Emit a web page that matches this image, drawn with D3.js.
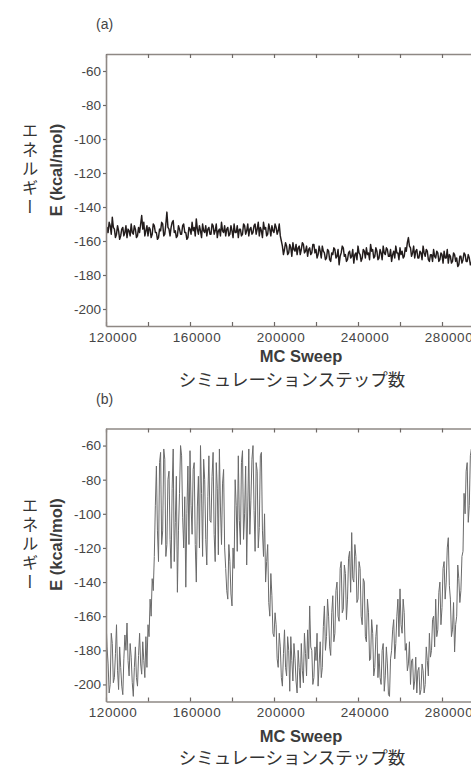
<!DOCTYPE html>
<html>
<head>
<meta charset="utf-8">
<script src="https://d3js.org/d3.v7.min.js"></script>
<style>
  body { margin: 0; background: #fff; }
  .tick text { font-family: "Liberation Sans", Arial, sans-serif; }
</style>
</head>
<body>
<svg id="chart" width="471" height="769"></svg>
<script>
// MC sweep grid of the traces
const sweepStart = 120000, sweepStep = 500;

// (a) energy trace, kcal/mol
const energyA = [
  -158, -152, -155, -149, -151, -156, -146, -152, -153, -158, -156, -151, -154, -159, -157, -153, -152, -157, -155, -151,
  -158, -153, -154, -157, -150, -155, -156, -151, -153, -158, -157, -152, -155, -150, -145, -153, -149, -157, -154, -151,
  -157, -152, -153, -158, -156, -150, -151, -155, -155, -159, -158, -153, -154, -149, -150, -157, -156, -150, -143, -152,
  -153, -157, -152, -149, -148, -155, -154, -158, -157, -151, -153, -156, -156, -151, -150, -155, -155, -159, -158, -152,
  -153, -156, -149, -154, -152, -157, -147, -153, -156, -151, -154, -158, -150, -154, -155, -151, -157, -153, -152, -156,
  -156, -150, -151, -156, -154, -150, -158, -154, -153, -157, -149, -154, -155, -151, -157, -153, -152, -157, -156, -151,
  -154, -158, -150, -155, -155, -151, -158, -153, -153, -157, -156, -150, -151, -156, -154, -150, -157, -153, -152, -156,
  -155, -151, -150, -156, -153, -149, -157, -152, -154, -158, -149, -153, -152, -157, -156, -150, -153, -157, -151, -154,
  -155, -150, -152, -156, -154, -150, -157, -160, -163, -168,
  -165, -161, -163, -168, -167, -162, -164, -169, -161, -165, -166, -162, -168, -164, -163, -168, -165, -161, -162, -167,
  -166, -163, -169, -165, -164, -168, -167, -162, -162, -167, -165, -170, -168, -163, -166, -170, -163, -166, -167, -171,
  -170, -165, -166, -171, -172, -167, -168, -164, -165, -170, -169, -165, -174, -169, -167, -163, -164, -169, -168, -172,
  -171, -167, -166, -170, -169, -165, -173, -168, -167, -171, -163, -167, -168, -172, -170, -165, -166, -170, -164, -168,
  -167, -171, -162, -166, -165, -170, -169, -164, -166, -171, -170, -165, -167, -171, -163, -167, -168, -164, -165, -169,
  -169, -165, -172, -168, -166, -170, -163, -167, -167, -171, -164, -168, -166, -170, -169, -164, -166, -161, -158, -163,
  -164, -169, -167, -163, -170, -166, -165, -170, -170, -166, -167, -171, -163, -167, -169, -165, -166, -171, -172, -168,
  -168, -172, -165, -169, -170, -166, -167, -172, -171, -167, -168, -173, -166, -170, -170, -165, -173, -168, -169, -173,
  -172, -167, -168, -172, -170, -175, -174, -169, -169, -173, -171, -167, -168, -172, -172, -168, -170, -174, -173, -169,
  -171, -167, -169
];

// (b) energy trace, kcal/mol
const energyB = [
  -162, -178, -188, -205, -200, -170, -176, -199, -196, -182, -165, -192, -203, -178, -190, -201, -206, -185, -171, -180,
  -164, -186, -195, -176, -184, -199, -207, -190, -178, -196, -201, -183, -170, -188, -194, -175, -186, -196, -172, -190,
  -165, -172, -150, -160, -138, -145, -125, -95, -72, -110, -128, -70, -64, -118, -110, -62, -68, -125, -118, -80,
  -75, -115, -132, -85, -62, -128, -105, -78, -146, -110, -88, -60, -66, -102, -120, -90, -143, -100, -72, -118,
  -63, -95, -112, -74, -70, -118, -140, -96, -78, -120, -60, -88, -125, -68, -80, -115, -130, -90, -66, -104,
  -105, -78, -64, -112, -128, -70, -85, -124, -62, -96, -118, -82, -74, -120, -132, -145, -150, -118, -128, -147,
  -154, -120, -132, -80, -95, -122, -66, -104, -118, -70, -63, -115, -100, -72, -130, -96, -62, -112, -92, -68,
  -60, -98, -122, -70, -75, -120, -108, -66, -64, -110, -125, -100, -140, -128, -118, -152, -160, -135, -148, -170,
  -172, -158, -165, -185, -190, -170, -178, -196, -201, -182, -168, -190, -195, -172, -180, -204, -172, -186, -198, -176,
  -185, -198, -205, -180, -190, -202, -176, -192, -199, -170, -182, -195, -168, -185, -154, -178, -180, -200, -196, -178,
  -186, -170, -201, -188, -175, -196, -190, -166, -154, -180, -172, -150, -160, -178, -183, -158, -148, -175, -170, -145,
  -140, -160, -163, -132, -128, -158, -156, -130, -135, -162, -150, -126, -122, -146, -111, -138, -140, -118, -125, -152,
  -150, -128, -132, -160, -165, -138, -140, -172, -175, -150, -158, -186, -185, -162, -170, -195, -190, -172, -165, -196,
  -182, -196, -200, -180, -176, -204, -195, -178, -188, -206, -207, -185, -180, -168, -162, -185, -176, -160, -150, -172,
  -144, -165, -170, -150, -158, -180, -176, -192, -188, -175, -200, -186, -185, -203, -198, -184, -205, -192, -190, -206,
  -203, -188, -192, -205, -200, -178, -186, -195, -170, -184, -180, -162, -160, -178, -150, -172, -168, -146, -140, -165,
  -155, -132, -128, -150, -140, -120, -114, -142, -150, -172, -168, -152, -181, -165, -160, -130, -138, -152, -145, -125,
  -122, -88, -100, -75, -70, -105, -95, -66, -62, -92, -85, -60, -64
];

const xTicks = [120000, 140000, 160000, 180000, 200000, 220000, 240000, 260000, 280000, 300000];
const xLabeled = [120000, 160000, 200000, 240000, 280000];
const yTicks = [-60, -80, -100, -120, -140, -160, -180, -200];

const panelTag = ["(a)", "(b)"];
const yTitle = "E (kcal/mol)";
const yTitleJa = "エネルギー";
const xTitle = "MC Sweep";
const xTitleJa = "シミュレーションステップ数";

const svg = d3.select("#chart");
const left = 106, right = 526;
const axisColor = "#8e8884";
const sans = "'Liberation Sans', Arial, sans-serif";
const cjk = "'Noto Sans CJK JP', sans-serif";

// soft edge like the scanned trace
svg.append("defs").append("filter").attr("id", "soft")
  .append("feGaussianBlur").attr("stdDeviation", 0.5);

const x = d3.scaleLinear().domain([120000, 320000]).range([left, right]);

function drawPanel(p) {
  const y = d3.scaleLinear().domain([-210, -50]).range([p.bottom, p.top]);
  const g = svg.append("g");

  g.append("clipPath").attr("id", "clip" + p.idx)
    .append("rect")
    .attr("x", left).attr("y", p.top)
    .attr("width", right - left).attr("height", p.bottom - p.top);

  const line = d3.line()
    .x((d, i) => x(sweepStart + i * sweepStep))
    .y(d => y(d));

  g.append("g").attr("clip-path", `url(#clip${p.idx})`)
    .append("path")
    .datum(p.values)
    .attr("d", line)
    .attr("fill", "none")
    .attr("stroke", p.color)
    .attr("stroke-width", p.width)
    .attr("stroke-linejoin", "round")
    .attr("filter", "url(#soft)");

  // bottom axis
  const xb = g.append("g")
    .attr("transform", `translate(0,${p.bottom})`)
    .call(d3.axisBottom(x).tickValues(xTicks).tickSizeInner(-4).tickSizeOuter(0).tickPadding(6)
      .tickFormat(d => xLabeled.includes(d) ? String(d) : ""));
  // top axis
  const xt = g.append("g")
    .attr("transform", `translate(0,${p.top})`)
    .call(d3.axisTop(x).tickValues(xTicks).tickSizeInner(-4).tickSizeOuter(0).tickFormat(""));
  // left axis
  const yl = g.append("g")
    .attr("transform", `translate(${left},0)`)
    .call(d3.axisLeft(y).tickValues(yTicks).tickSizeInner(3).tickSizeOuter(0).tickPadding(2)
      .tickFormat(d => String(d)));

  [xb, xt, yl].forEach(a => {
    a.select(".domain").attr("stroke", axisColor).attr("stroke-width", 1.6);
    a.selectAll(".tick line").attr("stroke", "#6e6966").attr("stroke-width", 1.2);
    a.selectAll(".tick text")
      .attr("fill", "#454545")
      .style("font-size", "13.5px");
  });
  xb.selectAll(".tick text").attr("dx", 6.5).style("letter-spacing", "0.6px");

  g.append("text")
    .attr("x", 96).attr("y", p.top - 25)
    .attr("font-family", sans).attr("font-size", 14).attr("fill", "#444")
    .text(panelTag[p.idx]);

  // y titles
  const cy = p.top + 116;
  g.append("text")
    .attr("transform", `translate(61.5,${cy}) rotate(-90)`)
    .attr("text-anchor", "middle")
    .attr("font-family", sans).attr("font-size", 16.5).attr("font-weight", "bold")
    .attr("fill", "#3c3c3c")
    .text(yTitle);

  g.append("text")
    .attr("x", 30).attr("y", cy)
    .attr("text-anchor", "middle")
    .style("writing-mode", "vertical-rl")
    .style("text-orientation", "upright")
    .style("letter-spacing", "2.5px")
    .attr("font-family", cjk).attr("font-size", 16.5).attr("fill", "#333")
    .text(yTitleJa);

  // x titles
  g.append("text")
    .attr("x", 301).attr("y", p.bottom + p.xOff)
    .attr("text-anchor", "middle")
    .attr("font-family", sans).attr("font-size", 16.5).attr("font-weight", "bold")
    .attr("fill", "#3c3c3c")
    .text(xTitle);

  g.append("text")
    .attr("x", 292).attr("y", p.bottom + p.jaOff)
    .attr("text-anchor", "middle")
    .attr("font-family", cjk).attr("font-size", 17.5).attr("fill", "#333")
    .text(xTitleJa);
}

drawPanel({ idx: 0, values: energyA, top: 54, bottom: 326, xOff: 36, jaOff: 60, color: "#221c1c", width: 1.45 });
drawPanel({ idx: 1, values: energyB, top: 428.5, bottom: 701.5, xOff: 40, jaOff: 62, color: "#6a6a6a", width: 1 });
</script>
</body>
</html>
